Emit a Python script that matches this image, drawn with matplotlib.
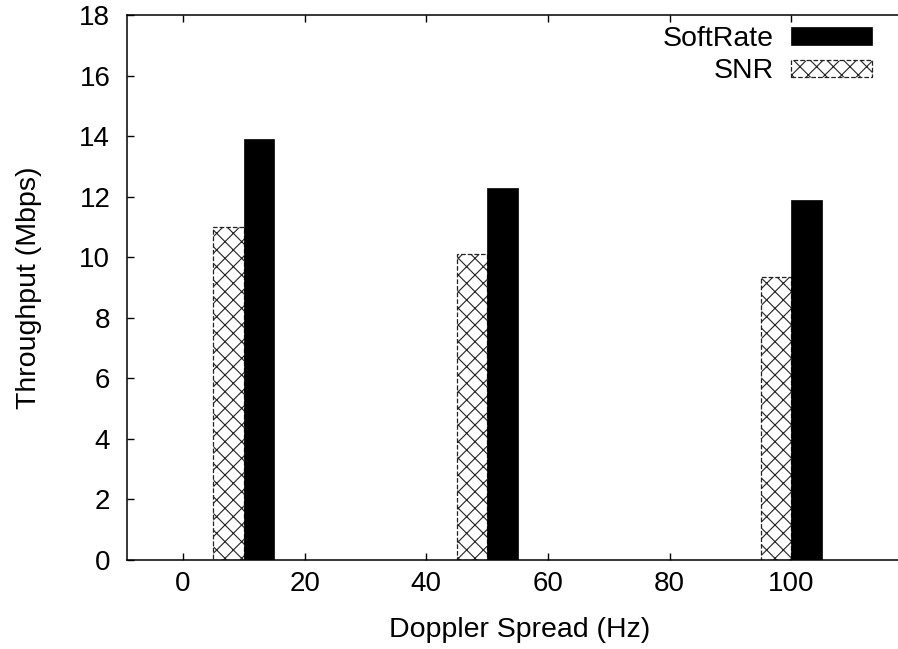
import matplotlib
matplotlib.use("Agg")
import matplotlib.pyplot as plt
import numpy as np

plt.rcParams['font.family'] = ['Liberation Sans', 'DejaVu Sans']
plt.rcParams['hatch.linewidth'] = 0.8
plt.rcParams['hatch.color'] = '#333333'

# Throughput at each Doppler spread
doppler = [10, 50, 100]
snr = [11.0, 10.1, 9.35]
softrate = [13.9, 12.28, 11.9]
bar_width = 5

fig = plt.figure(figsize=(8.98, 6.49), dpi=100)
ax = fig.add_axes([127 / 898, 89 / 649, 786 / 898, 545 / 649])

x = np.array(doppler, dtype=float)
ax.bar(x - bar_width, snr, width=bar_width, align='edge', color='white',
       edgecolor='#222222', hatch='xx', linestyle='--', linewidth=0.9,
       label='SNR', zorder=2)
ax.bar(x, softrate, width=bar_width, align='edge', color='black',
       edgecolor='black', linewidth=0.5, label='SoftRate', zorder=2)

ax.set_xlim(-9.2, 120)
ax.set_ylim(0, 18)
ax.set_xticks([0, 20, 40, 60, 80, 100])
ax.set_yticks(np.arange(0, 19, 2))
ax.tick_params(direction='in', length=5, width=1, top=True, right=True,
               labelsize=20)
ax.tick_params(axis='x', pad=8)
ax.tick_params(axis='y', pad=12)
for s in ax.spines.values():
    s.set_linewidth(1.1)

ax.set_xlabel('Doppler Spread (Hz)', fontsize=20.5, labelpad=14)
ax.set_ylabel('Throughput (Mbps)', fontsize=20.5, labelpad=27)

handles, labels = ax.get_legend_handles_labels()
leg = ax.legend(handles[::-1], labels[::-1], loc='upper right',
                bbox_to_anchor=(872 / 898, 1 - 26 / 649),
                bbox_transform=fig.transFigure, frameon=False,
                markerfirst=False, fontsize=20.5, handlelength=2.85,
                handleheight=0.55, labelspacing=0.22, borderpad=0,
                borderaxespad=0, handletextpad=0.6)

fig.savefig('out.png', dpi=100)
